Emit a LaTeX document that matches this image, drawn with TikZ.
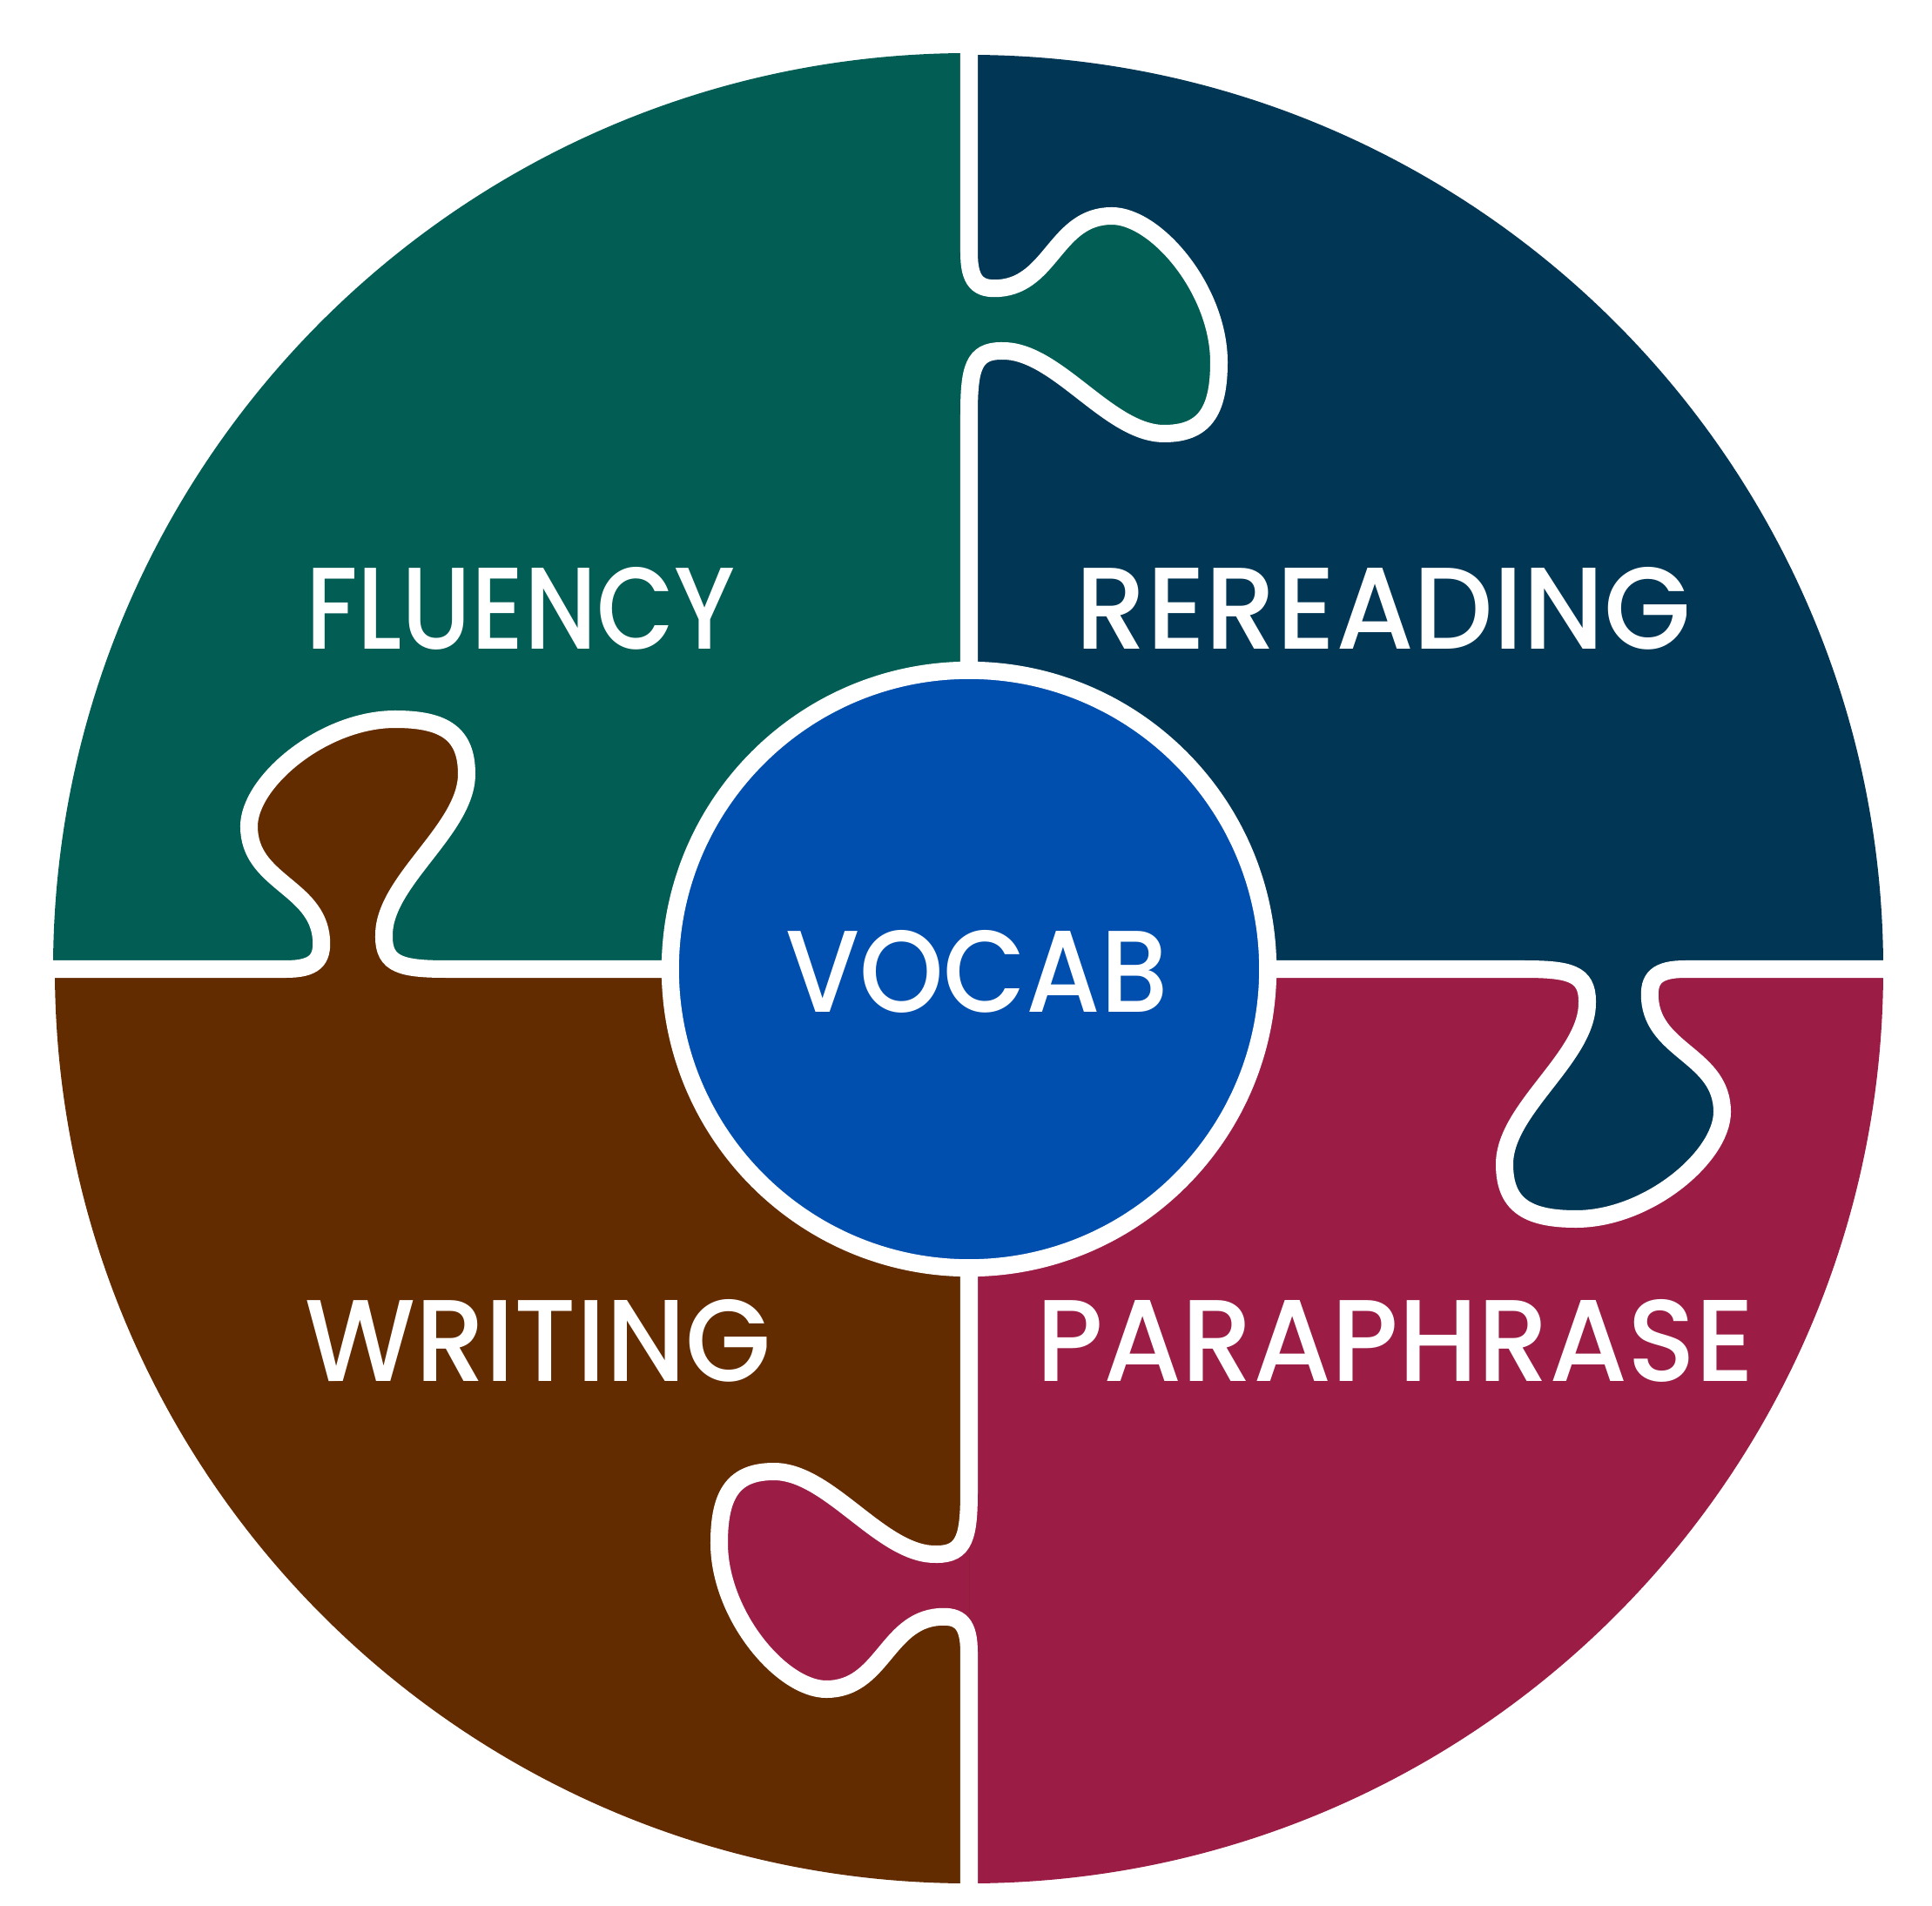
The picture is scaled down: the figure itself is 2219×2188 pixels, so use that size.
\documentclass[tikz,border=0pt]{standalone}
\usepackage{fontspec}
\newfontfamily\piecefont{Poppins}[UprightFont={* Medium}]
\usepackage{graphicx}
\usepackage{xcolor}
\usepackage{tikz}
\definecolor{fluencygreen}{RGB}{2,93,85}
\definecolor{rereadnavy}{RGB}{1,54,84}
\definecolor{paracrimson}{RGB}{155,29,69}
\definecolor{writebrown}{RGB}{99,43,0}
\definecolor{vocabblue}{RGB}{0,79,175}
% one puzzle knob, drawn along the +y seam, bulging to +x
\newcommand{\knobcurve}{(0,637) .. controls (0,690) and (5,710) .. (37,710)
  .. controls (100,712) and (160,615) .. (224,615)
  .. controls (270,615) and (287,640) .. (287,697)
  .. controls (287,780) and (215,865) .. (164,865)
  .. controls (100,865) and (95,787) .. (35,782)
  .. controls (10,780) and (0,790) .. (0,823)}

\begin{document}
\begin{tikzpicture}[x=0.01cm, y=0.01cm,
  seam/.style={draw=white, line width=0.2cm},
  piecetext/.style={text=white, inner sep=0pt, font=\piecefont\fontsize{38}{40}\selectfont}]
\useasboundingbox[fill=white] (-1113,-1075) rectangle (1106,1113);
% four quarters
\fill[fluencygreen] (0,0) -- (-1052,0) arc[start angle=180, end angle=90, radius=1052] -- cycle;
\fill[rereadnavy] (0,0) -- (0,1050) arc[start angle=90, end angle=0, radius=1050] -- cycle;
\fill[paracrimson] (0,0) -- (1050,0) arc[start angle=0, end angle=-90, radius=1050] -- cycle;
\fill[writebrown] (0,0) -- (0,-1050) arc[start angle=-90, end angle=-180, radius=1050] -- cycle;
% knobs
\foreach \ang/\off/\col in {0/0/fluencygreen, -90/0/rereadnavy, -180/38/paracrimson, 90/38/writebrown}{
  \begin{scope}[rotate=\ang, shift={(0,-\off)}]
    \fill[\col] \knobcurve -- cycle;
  \end{scope}
}
\foreach \ang/\off in {0/0, -90/0, -180/38, 90/38}{
  \begin{scope}[rotate=\ang, shift={(0,-\off)}]
    \draw[seam] (0,300) -- \knobcurve -- (0,1150);
  \end{scope}
}
% centre piece
\node[circle, fill=vocabblue, draw=white, line width=0.2cm, minimum size=6.86cm] (hub) at (0,0) {};
\node[piecetext] (vocab) at (9,-3) {\scalebox{0.92}[1]{VOCAB}};
\node[piecetext] (fluency) at (-515,414) {\scalebox{0.865}[1]{FLUENCY}};
\node[piecetext] (rereading) at (476,414) {\scalebox{0.966}[1]{REREADING}};
\node[piecetext] (writing) at (-495,-427) {\scalebox{0.95}[1]{WRITING}};
\node[piecetext] (paraphrase) at (490,-427) {\scalebox{0.968}[1]{PARAPHRASE}};
\end{tikzpicture}
\end{document}
